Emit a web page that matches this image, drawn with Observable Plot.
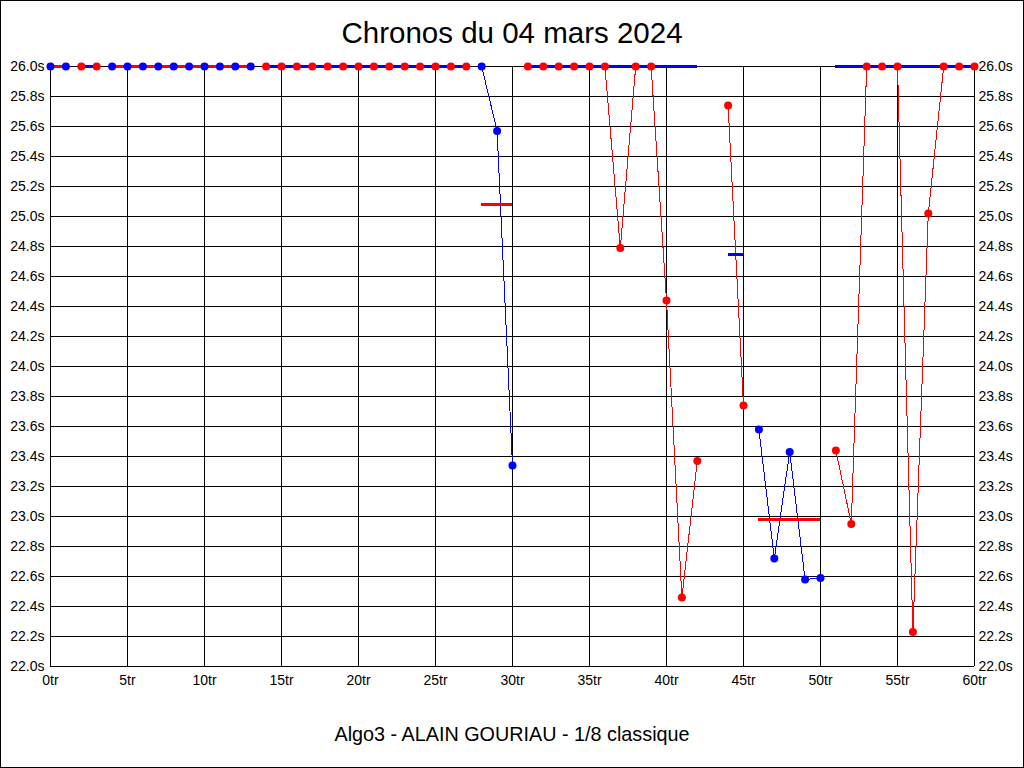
<!DOCTYPE html>
<html>
<head>
<meta charset="utf-8">
<script src="https://cdn.jsdelivr.net/npm/d3@7"></script>
<script src="https://cdn.jsdelivr.net/npm/@observablehq/plot@0.6"></script>
<style>
  html, body { margin: 0; padding: 0; background: #fff; }
  #wrap { position: relative; width: 1024px; height: 768px; background: #fff; font-family: "Liberation Sans", Arial, sans-serif; }
  #title { box-sizing: border-box; height: 56px; padding-top: 10px; line-height: 46px; font-size: 29.5px; text-align: center; color: #000; }
  #caption { box-sizing: border-box; height: 52px; padding-top: 3px; line-height: 30px; font-size: 19.8px; text-align: center; color: #000; }
  #border { position: absolute; left: 0; top: 0; width: 1024px; height: 768px; box-sizing: border-box; border: 1px solid #000; pointer-events: none; }
  #chart svg { display: block; }
</style>
</head>
<body>
<div id="wrap">
  <div id="title">Chronos du 04 mars 2024</div>
  <div id="chart"></div>
  <div id="caption">Algo3 - ALAIN GOURIAU - 1/8 classique</div>
  <div id="border"></div>
</div>
<script>
// Lap numbers (lap 43 has no time)
const laps = [0,1,2,3,4,5,6,7,8,9,10,11,12,13,14,15,16,17,18,19,20,21,22,23,24,25,26,27,28,29,30,
              31,32,33,34,35,36,37,38,39,40,41,42,44,45,46,47,48,49,50,51,52,53,54,55,56,57,58,59,60];
// Lap times in seconds (display capped at 26.0)
const chronos = [26.0,26.0,26.0,26.0,26.0,26.0,26.0,26.0,26.0,26.0,26.0,26.0,26.0,26.0,26.0,26.0,26.0,26.0,26.0,26.0,26.0,26.0,26.0,26.0,26.0,26.0,26.0,26.0,
                 26.0,25.57,23.34,
                 26.0,26.0,26.0,26.0,26.0,26.0,24.79,26.0,26.0,24.44,22.46,23.37,
                 25.74,23.74,
                 23.58,22.72,23.43,22.58,22.59,
                 23.44,22.95,26.0,26.0,26.0,22.23,25.02,26.0,26.0,26.0];
// Runs (series) : first lap, last lap, colour, mean time
const runStart = [0, 2, 4, 14, 28, 31, 44, 46, 51];
const runEnd   = [1, 3, 13, 27, 30, 42, 45, 50, 60];
const runColor = ["blue", "red", "blue", "red", "blue", "red", "red", "blue", "red"];
const runMean  = [26.0, 26.0, 26.0, 26.0, 25.08, 26.0, 24.75, 22.98, 26.0];
// Axis ticks
const xTicks = [0, 5, 10, 15, 20, 25, 30, 35, 40, 45, 50, 55, 60];
const yTicks = [22.0, 22.2, 22.4, 22.6, 22.8, 23.0, 23.2, 23.4, 23.6, 23.8, 24.0, 24.2, 24.4, 24.6, 24.8, 25.0, 25.2, 25.4, 25.6, 25.8, 26.0];

const palette = {red: "#ff0000", blue: "#0000ff"};
const opposite = {red: "#0000ff", blue: "#ff0000"};

const points = laps.map((lap, i) => {
  const r = runStart.findIndex((s, k) => lap >= s && lap <= runEnd[k]);
  return {lap, value: chronos[i], run: r, color: palette[runColor[r]]};
});
const runs = runStart.map((s, k) => ({start: s, end: runEnd[k], mean: runMean[k], color: opposite[runColor[k]]}));

const chart = Plot.plot({
  width: 1024,
  height: 660,
  marginLeft: 50,
  marginRight: 50,
  marginTop: 10,
  marginBottom: 50,
  style: {fontFamily: "'Liberation Sans', Arial, sans-serif", fontSize: "14px", background: "#fff", color: "#000"},
  x: {domain: [0, 60], ticks: xTicks},
  y: {domain: [22, 26], ticks: yTicks},
  color: {type: "identity"},
  marks: [
    Plot.ruleY(yTicks, {stroke: "#000", strokeWidth: 1, shapeRendering: "crispEdges"}),
    Plot.ruleX(xTicks, {stroke: "#000", strokeWidth: 1, shapeRendering: "crispEdges"}),
    Plot.line(points, {x: "lap", y: "value", z: "run", stroke: "color", strokeWidth: 1, shapeRendering: "crispEdges"}),
    Plot.ruleY(runs, {y: "mean", x1: "start", x2: "end", stroke: "color", strokeWidth: 3, shapeRendering: "crispEdges"}),
    Plot.dot(points, {x: "lap", y: "value", fill: "color", r: 4, stroke: "none"}),
    Plot.axisY({anchor: "left", ticks: yTicks, tickSize: 0, tickPadding: 6, tickFormat: d => d.toFixed(1) + "s", label: null, fontSize: 14}),
    Plot.axisY({anchor: "right", ticks: yTicks, tickSize: 0, tickPadding: 4, tickFormat: d => d.toFixed(1) + "s", label: null, fontSize: 14}),
    Plot.axisX({anchor: "bottom", ticks: xTicks, tickSize: 0, tickPadding: 9, tickFormat: d => d + "tr", label: null, fontSize: 14})
  ]
});
document.getElementById("chart").appendChild(chart);
</script>
</body>
</html>
